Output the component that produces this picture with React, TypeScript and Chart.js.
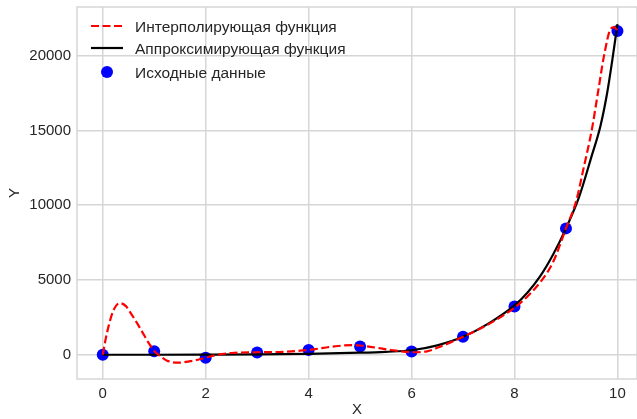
import { useEffect, useRef } from "react";
import { Chart, registerables } from "chart.js";

Chart.register(...registerables);

const FONT = '"Liberation Sans", Arial, Helvetica, sans-serif';
const TEXT = "#262626";
const GRID = "#d6d6d6";

// Source data points
const dataX = [0, 1, 2, 3, 4, 5, 6, 7, 8, 9, 10];
const dataY = [0, 230, -200, 150, 320, 560, 220, 1200, 3230, 8450, 21650];

// Interpolating function
const interpX = [0, 0.06, 0.12, 0.2, 0.33, 0.45, 0.55, 0.67, 0.78, 0.9, 1.0, 1.12, 1.24, 1.46, 1.7, 1.85, 2.0, 2.2, 2.5, 3.0, 3.5, 4.0, 4.5, 4.85, 5.0, 5.3, 5.6, 6.0, 6.3, 6.6, 7.0, 7.5, 8.0, 8.25, 8.5, 8.75, 9.0, 9.2, 9.35, 9.5, 9.62, 9.74, 9.87, 9.94, 10];
const interpY = [0, 1100, 2000, 2900, 3450, 3250, 2750, 2100, 1450, 750, 250, -100, -380, -530, -430, -330, -200, -20, 120, 170, 200, 320, 560, 650, 620, 480, 320, 170, 230, 600, 1200, 2050, 3150, 3900, 4850, 6200, 8450, 10300, 12600, 15000, 17500, 20000, 21800, 21900, 21650];

// Approximating function
const approxX = [0, 1, 2, 3, 4, 5, 5.5, 6, 6.5, 7, 7.5, 8, 8.25, 8.5, 8.75, 9, 9.25, 9.5, 9.67, 9.8, 9.9, 10];
const approxY = [0, 0, 5, 20, 60, 140, 200, 300, 630, 1200, 2100, 3300, 4150, 5250, 6700, 8450, 10500, 13300, 15300, 17500, 19700, 22100];

const xTicks = [0, 2, 4, 6, 8, 10];
const yTicks = [0, 5000, 10000, 15000, 20000];

const labels = {
  interp: "Интерполирующая функция",
  approx: "Аппроксимирующая функция",
  points: "Исходные данные",
  x: "X",
  y: "Y",
};

const zip = (xs: number[], ys: number[]) => xs.map((x, i) => ({ x, y: ys[i] }));

const DASH = [8, 3.5];

const frameAndLegend = {
  id: "frameAndLegend",
  beforeDatasetsDraw(chart: any) {
    const { ctx, chartArea: a } = chart;
    ctx.save();
    ctx.strokeStyle = GRID;
    ctx.lineWidth = 1.5;
    ctx.strokeRect(a.left, a.top, a.right - a.left, a.bottom - a.top);
    ctx.restore();
  },
  afterDraw(chart: any) {
    const { ctx } = chart;
    ctx.save();
    ctx.font = `15.5px ${FONT}`;
    ctx.textBaseline = "middle";
    const x0 = 91, x1 = 123, tx = 135;
    const rows = [26, 48, 72];
    ctx.strokeStyle = "#ff0000";
    ctx.lineWidth = 2.2;
    ctx.setLineDash(DASH);
    ctx.beginPath();
    ctx.moveTo(x0, rows[0]);
    ctx.lineTo(x1, rows[0]);
    ctx.stroke();
    ctx.setLineDash([]);
    ctx.strokeStyle = "#000000";
    ctx.beginPath();
    ctx.moveTo(x0, rows[1]);
    ctx.lineTo(x1, rows[1]);
    ctx.stroke();
    ctx.fillStyle = "#0000ff";
    ctx.beginPath();
    ctx.arc((x0 + x1) / 2, rows[2], 6, 0, Math.PI * 2);
    ctx.fill();
    ctx.fillStyle = TEXT;
    ctx.fillText(labels.interp, tx, rows[0] + 1.5);
    ctx.fillText(labels.approx, tx, rows[1] + 1.5);
    ctx.fillText(labels.points, tx, rows[2] + 1.5);
    ctx.restore();
  },
};

export default function App() {
  const ref = useRef<HTMLCanvasElement>(null);
  useEffect(() => {
    document.body.style.margin = "0";
    const chart = new Chart(ref.current!, {
      type: "line",
      data: {
        datasets: [
          {
            label: labels.interp,
            data: zip(interpX, interpY),
            borderColor: "#ff0000",
            borderWidth: 2.2,
            borderDash: DASH,
            pointRadius: 0,
            cubicInterpolationMode: "monotone",
            fill: false,
          },
          {
            label: labels.approx,
            data: zip(approxX, approxY),
            borderColor: "#000000",
            borderWidth: 2.2,
            pointRadius: 0,
            cubicInterpolationMode: "monotone",
            fill: false,
          },
          {
            label: labels.points,
            data: zip(dataX, dataY),
            showLine: false,
            pointRadius: 6,
            pointBackgroundColor: "#0000ff",
            pointBorderWidth: 0,
            borderColor: "#0000ff",
          },
        ],
      } as any,
      options: {
        animation: false,
        responsive: false,
        devicePixelRatio: 1,
        layout: { autoPadding: false, padding: { top: 7, right: 0, left: 0, bottom: 0 } },
        plugins: { legend: { display: false }, tooltip: { enabled: false } },
        scales: {
          x: {
            type: "linear",
            min: -0.5,
            max: 10.38,
            afterBuildTicks: (s: any) => {
              s.ticks = xTicks.map((v) => ({ value: v }));
            },
            afterFit: (s: any) => {
              s.height = 40;
              s.paddingLeft = 0;
              s.paddingRight = 0;
            },
            grid: { color: GRID, lineWidth: 1.5, drawTicks: false },
            border: { display: false },
            ticks: {
              padding: 6,
              color: TEXT,
              font: { family: FONT, size: 15 },
              callback: (v: any) => String(v),
            },
            title: {
              display: true,
              text: labels.x,
              color: TEXT,
              font: { family: FONT, size: 15 },
              padding: { top: 0, bottom: 0 },
            },
          },
          y: {
            type: "linear",
            min: -1620,
            max: 23250,
            afterBuildTicks: (s: any) => {
              s.ticks = yTicks.map((v) => ({ value: v }));
            },
            afterFit: (s: any) => {
              s.width = 77;
              s.paddingTop = 0;
              s.paddingBottom = 0;
            },
            grid: { color: GRID, lineWidth: 1.5, drawTicks: false },
            border: { display: false },
            ticks: {
              padding: 6,
              color: TEXT,
              font: { family: FONT, size: 15 },
              callback: (v: any) => String(v),
            },
            title: {
              display: true,
              text: labels.y,
              color: TEXT,
              font: { family: FONT, size: 15 },
              padding: { top: 6, bottom: 0 },
            },
          },
        },
      } as any,
      plugins: [frameAndLegend],
    });
    return () => chart.destroy();
  }, []);
  return (
    <div style={{ position: "fixed", left: 0, top: 0, width: 637, height: 419 }}>
      <canvas ref={ref} width={637} height={419} style={{ display: "block", width: 637, height: 419 }} />
    </div>
  );
}
